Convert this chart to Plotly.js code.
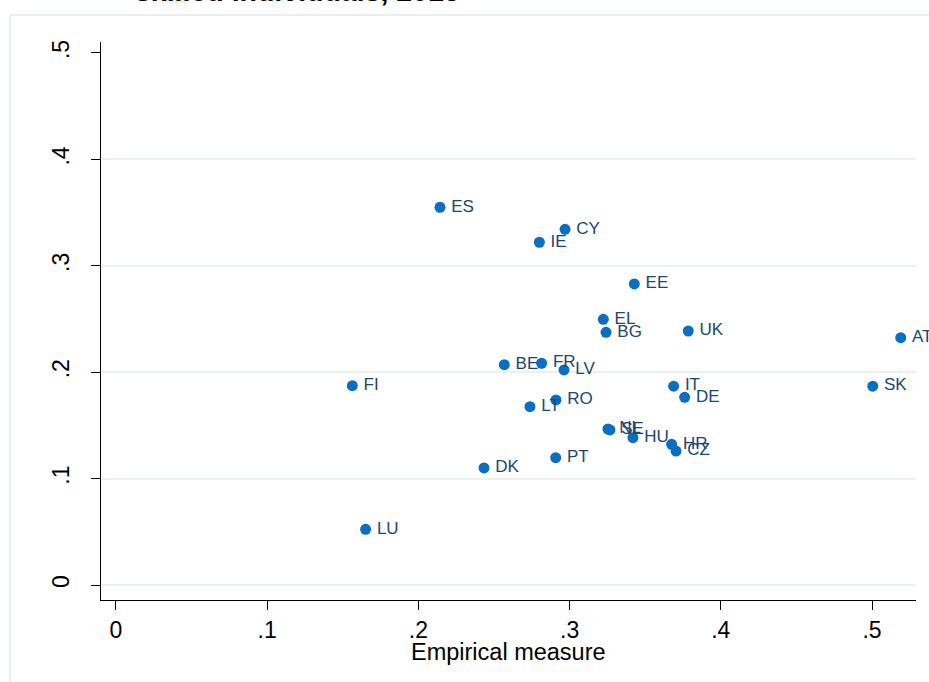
<!DOCTYPE html>
<html>
<head>
<meta charset="utf-8">
<script src="https://cdn.plot.ly/plotly-3.0.1.min.js"></script>
<style>
  html, body { margin: 0; padding: 0; background: #ffffff; }
  #chart { width: 929px; height: 682px; }
</style>
</head>
<body>
<div id="chart"></div>
<script>
// Country codes and their two measures
const countries = ["ES", "CY", "IE", "EE", "EL", "BG", "UK", "AT", "BE", "FR", "LV",
                   "FI", "IT", "SK", "DE", "LT", "RO", "NL", "SE", "HU", "HR", "CZ",
                   "PT", "DK", "LU"];
const empirical = [0.2143, 0.2970, 0.2800, 0.3428, 0.3223, 0.3241, 0.3785, 0.5190, 0.2568, 0.2815, 0.2963,
                   0.1563, 0.3688, 0.5005, 0.3761, 0.2738, 0.2910, 0.3254, 0.3267, 0.3419, 0.3675, 0.3704,
                   0.2908, 0.2434, 0.1651];
const share = [0.3550, 0.3343, 0.3221, 0.2829, 0.2497, 0.2375, 0.2387, 0.2324, 0.2071, 0.2084, 0.2021,
               0.1873, 0.1868, 0.1868, 0.1764, 0.1676, 0.1739, 0.1466, 0.1457, 0.1384, 0.1322, 0.1259,
               0.1196, 0.1100, 0.0523];

const xTicks = [0, 0.1, 0.2, 0.3, 0.4, 0.5];
const xTickText = ["0", ".1", ".2", ".3", ".4", ".5"];
const yTicks = [0, 0.1, 0.2, 0.3, 0.4, 0.5];
const yTickText = ["0", ".1", ".2", ".3", ".4", ".5"];
const yGrid = [0, 0.1, 0.2, 0.3, 0.4];

const xTitle = "Empirical measure";
const chartTitle = "skilled individuals, 2015";

const xRange = [-0.0099, 0.5291];
const yRange = [-0.0141, 0.5103];

const FONT = "Liberation Sans, Arial, sans-serif";

const trace = {
  type: "scatter",
  mode: "markers+text",
  x: empirical,
  y: share,
  text: countries.map(c => "\u2009" + c),
  textposition: "middle right",
  cliponaxis: false,
  textfont: { family: FONT, size: 17, color: "#1a476f" },
  marker: { size: 11, color: "#0a6ec1", line: { width: 0 } },
  hoverinfo: "text+x+y",
  showlegend: false
};

// invisible companion trace that carries the light horizontal grid
const gridTrace = {
  type: "scatter",
  mode: "markers",
  x: [xRange[0]],
  y: [yRange[0]],
  yaxis: "y2",
  marker: { opacity: 0 },
  hoverinfo: "skip",
  showlegend: false
};

const frame = "#e1eaee";

const layout = {
  width: 929,
  height: 682,
  margin: { l: 101, r: 13, t: 42, b: 82 },
  paper_bgcolor: "#ffffff",
  plot_bgcolor: "#ffffff",
  font: { family: FONT, color: "#000000" },
  xaxis: {
    range: xRange,
    tickvals: xTicks,
    ticktext: xTickText,
    ticks: "outside",
    ticklen: 9,
    tickwidth: 1,
    tickcolor: "#000000",
    ticklabelstandoff: 0,
    showgrid: false,
    zeroline: false,
    showline: true,
    linecolor: "#000000",
    linewidth: 1,
    tickfont: { family: FONT, size: 23, color: "#000000" }
  },
  yaxis: {
    range: yRange,
    tickvals: yTicks,
    ticktext: yTickText,
    tickangle: -90,
    ticks: "outside",
    ticklen: 9,
    tickwidth: 1,
    tickcolor: "#000000",
    ticklabelstandoff: 13,
    showgrid: false,
    zeroline: false,
    showline: true,
    linecolor: "#000000",
    linewidth: 1,
    tickfont: { family: FONT, size: 23, color: "#000000" }
  },
  yaxis2: {
    range: yRange,
    overlaying: "y",
    side: "left",
    tickvals: yGrid,
    showticklabels: false,
    ticks: "",
    showgrid: true,
    gridcolor: "#eaf1f3",
    gridwidth: 2,
    zeroline: false,
    showline: false
  },
  shapes: [
    { type: "line", xref: "paper", yref: "paper", x0: -0.1117, x1: 1.02, y0: 1.0484, y1: 1.0484,
      line: { color: frame, width: 1.5 } },
    { type: "line", xref: "paper", yref: "paper", x0: -0.1117, x1: -0.1117, y0: 1.0484, y1: -0.2,
      line: { color: frame, width: 1.5 } }
  ],
  annotations: [
    { text: "<b>" + chartTitle + "</b>", xref: "paper", yref: "paper",
      x: 0.0393, y: 1.0592, xanchor: "left", yanchor: "bottom", showarrow: false,
      font: { family: FONT, size: 28.5, color: "#000000" } },
    { text: xTitle, xref: "paper", yref: "paper",
      x: 0.5, y: -0.0932, xanchor: "center", yanchor: "middle", showarrow: false,
      font: { family: FONT, size: 23.5, color: "#000000" } }
  ]
};

Plotly.newPlot("chart", [gridTrace, trace], layout, { displayModeBar: false, staticPlot: true });
</script>
</body>
</html>
